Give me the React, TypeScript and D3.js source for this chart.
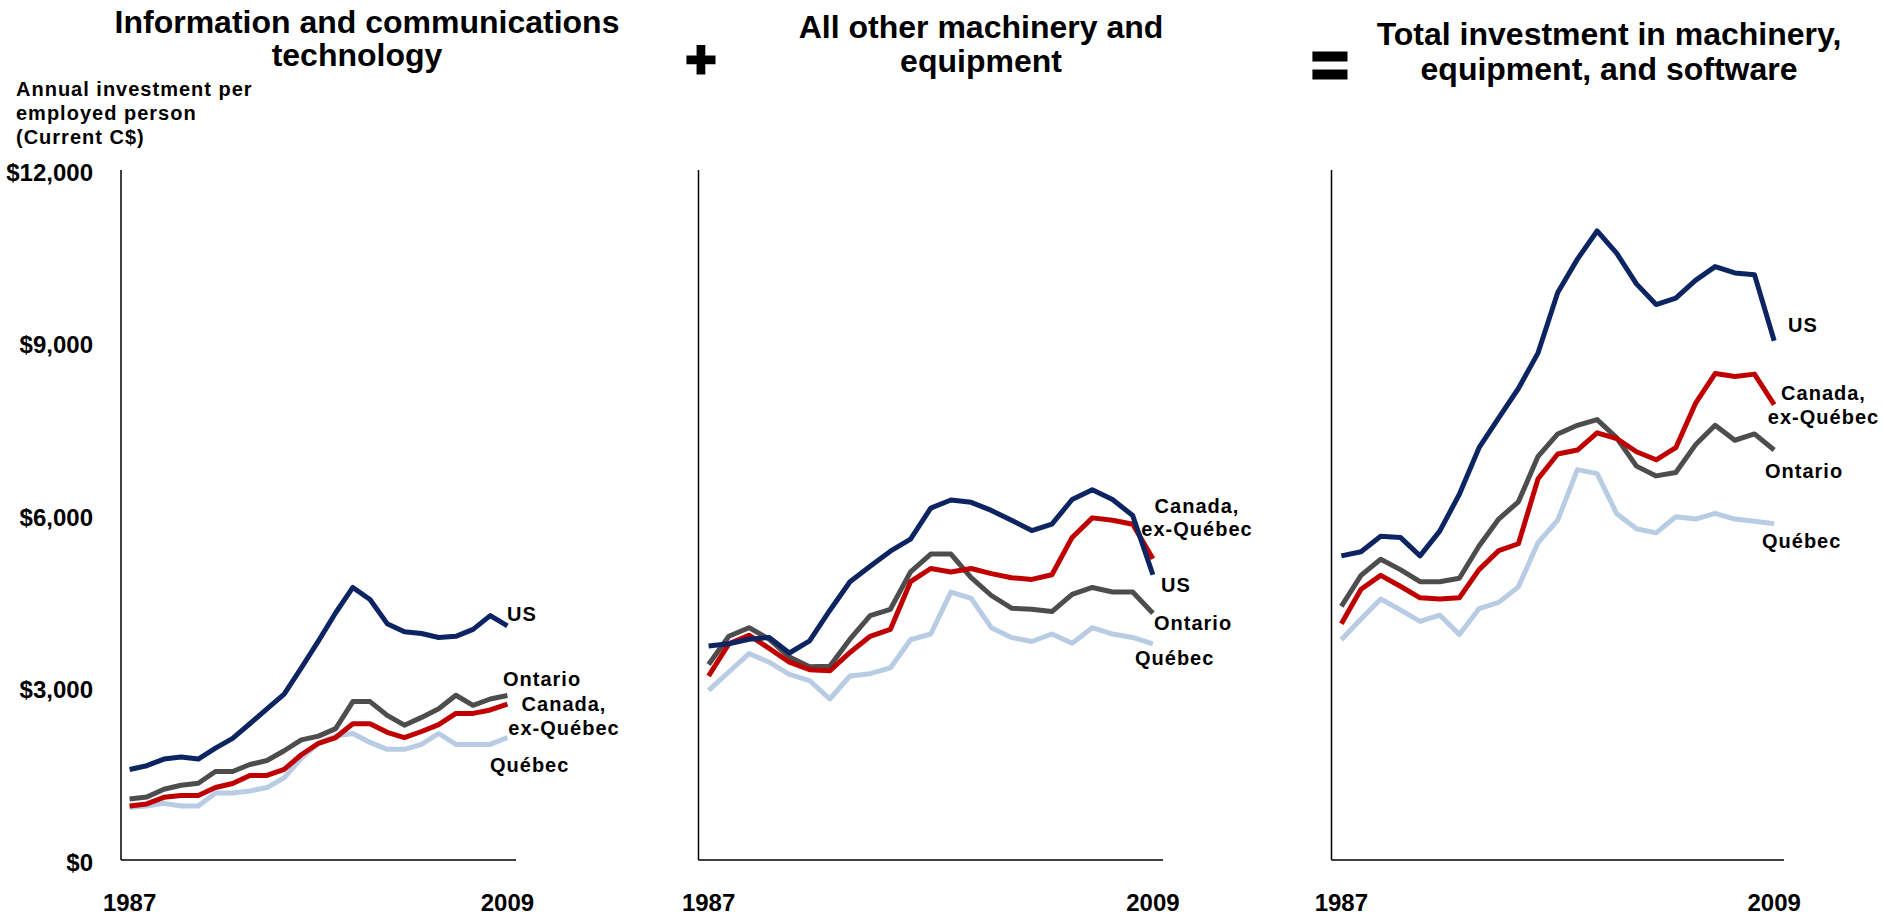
import React from "react";
import * as d3 from "d3";

// ---------- DATA ----------
const years = [1987, 1988, 1989, 1990, 1991, 1992, 1993, 1994, 1995, 1996, 1997, 1998, 1999, 2000, 2001, 2002, 2003, 2004, 2005, 2006, 2007, 2008, 2009];
const xTickYears = [1987, 2009];
const yTicks = [0, 3000, 6000, 9000, 12000];

// Information and communications technology
const ictUS = [1575, 1640, 1755, 1790, 1755, 1945, 2115, 2370, 2630, 2885, 3340, 3810, 4300, 4740, 4530, 4110, 3970, 3940, 3870, 3890, 4010, 4250, 4070];
const ictCanExQ = [940, 975, 1090, 1120, 1120, 1260, 1330, 1470, 1470, 1575, 1830, 2030, 2130, 2370, 2370, 2220, 2130, 2235, 2355, 2550, 2550, 2610, 2710];
const ictOntario = [1060, 1095, 1230, 1300, 1335, 1540, 1540, 1660, 1730, 1900, 2090, 2155, 2285, 2755, 2755, 2515, 2345, 2480, 2630, 2865, 2690, 2800, 2860];
const ictQuebec = [915, 940, 985, 940, 940, 1165, 1165, 1200, 1260, 1430, 1770, 2030, 2155, 2200, 2045, 1925, 1925, 2010, 2200, 2010, 2010, 2010, 2130];

// All other machinery and equipment
const otherUS = [3720, 3760, 3840, 3870, 3600, 3810, 4340, 4840, 5110, 5370, 5580, 6120, 6260, 6220, 6080, 5910, 5730, 5840, 6270, 6440, 6270, 5990, 4960];
const otherCanExQ = [3200, 3760, 3910, 3680, 3440, 3310, 3290, 3610, 3890, 4010, 4840, 5070, 5010, 5070, 4980, 4910, 4880, 4960, 5610, 5950, 5910, 5840, 5240];
const otherOntario = [3400, 3890, 4040, 3840, 3530, 3360, 3370, 3840, 4250, 4360, 5010, 5320, 5320, 4910, 4600, 4380, 4360, 4320, 4620, 4740, 4660, 4660, 4290];
const otherQuebec = [2950, 3270, 3590, 3440, 3230, 3120, 2800, 3200, 3240, 3340, 3830, 3930, 4660, 4550, 4040, 3870, 3800, 3930, 3770, 4040, 3930, 3870, 3760];

// Total investment in machinery, equipment, and software
const totalUS = [5290, 5360, 5630, 5610, 5290, 5720, 6360, 7170, 7690, 8200, 8820, 9870, 10450, 10940, 10550, 10020, 9660, 9770, 10080, 10320, 10210, 10180, 9030];
const totalCanExQ = [4110, 4710, 4950, 4760, 4560, 4540, 4560, 5050, 5380, 5500, 6630, 7060, 7130, 7430, 7330, 7100, 6960, 7170, 7940, 8460, 8410, 8450, 7920];
const totalOntario = [4410, 4950, 5230, 5050, 4840, 4840, 4900, 5460, 5930, 6230, 7020, 7410, 7560, 7660, 7340, 6850, 6680, 6740, 7220, 7560, 7300, 7410, 7130];
const totalQuebec = [3830, 4190, 4540, 4350, 4150, 4260, 3920, 4370, 4480, 4750, 5520, 5910, 6790, 6720, 6020, 5760, 5690, 5970, 5930, 6030, 5930, 5890, 5850];

const seriesNames = ["Québec", "Ontario", "Canada, ex-Québec", "US"];
const panelTitles = [
  ["Information and communications", "technology"],
  ["All other machinery and", "equipment"],
  ["Total investment in machinery,", "equipment, and software"],
];
const yAxisTitle = ["Annual investment per", "employed person", "(Current C$)"];

// ---------- STYLE ----------
const COLORS: Record<string, string> = {
  "Québec": "#b8cce4",
  "Ontario": "#4d4d4d",
  "Canada, ex-Québec": "#c00000",
  "US": "#0c2461",
};
const FONT = "'Liberation Sans', Arial, Helvetica, sans-serif";

const W = 1883;
const H = 923;

const yScale = d3.scaleLinear().domain([0, 12000]).range([860, 170]);

type Label = { lines: string[]; x: number; y: number; anchor: "start" | "middle"; lh?: number };

const panels = [
  {
    title: panelTitles[0],
    titleX: [367, 357],
    titleY: [33, 66],
    left: 121,
    right: 516,
    values: [ictQuebec, ictOntario, ictCanExQ, ictUS],
    labels: [
      { lines: ["US"], x: 507, y: 621, anchor: "start" },
      { lines: ["Ontario"], x: 503, y: 686, anchor: "start" },
      { lines: ["Canada,", "ex-Québec"], x: 564, y: 711, anchor: "middle", lh: 24 },
      { lines: ["Québec"], x: 490, y: 772, anchor: "start" },
    ] as Label[],
  },
  {
    title: panelTitles[1],
    titleX: [981, 981],
    titleY: [38, 72],
    left: 698.5,
    right: 1163,
    values: [otherQuebec, otherOntario, otherCanExQ, otherUS],
    labels: [
      { lines: ["Canada,", "ex-Québec"], x: 1197, y: 513, anchor: "middle", lh: 22.5 },
      { lines: ["US"], x: 1161, y: 592, anchor: "start" },
      { lines: ["Ontario"], x: 1154, y: 630, anchor: "start" },
      { lines: ["Québec"], x: 1135, y: 665, anchor: "start" },
    ] as Label[],
  },
  {
    title: panelTitles[2],
    titleX: [1609, 1609],
    titleY: [45, 80],
    left: 1331.5,
    right: 1784,
    values: [totalQuebec, totalOntario, totalCanExQ, totalUS],
    labels: [
      { lines: ["US"], x: 1788, y: 332, anchor: "start" },
      { lines: ["Canada,", "ex-Québec"], x: 1823.5, y: 400, anchor: "middle", lh: 24 },
      { lines: ["Ontario"], x: 1765, y: 478, anchor: "start" },
      { lines: ["Québec"], x: 1762, y: 548, anchor: "start" },
    ] as Label[],
  },
];

function Panel({ p, showY }: { p: (typeof panels)[number]; showY: boolean }) {
  const x = d3.scalePoint<number>().domain(years).range([p.left, p.right]).padding(0.5);
  const line = d3
    .line<number>()
    .x((_, i) => x(years[i]) as number)
    .y((d) => yScale(d));
  const [y0, y1] = yScale.range();
  return (
    <g>
      {/* title */}
      <text textAnchor="middle" fontFamily={FONT} fontWeight="bold" fontSize={32} fill="#000">
        {p.title.map((t, i) => (
          <tspan key={i} x={p.titleX[i]} y={p.titleY[i]}>
            {t}
          </tspan>
        ))}
      </text>
      {/* axes */}
      <line x1={p.left} x2={p.left} y1={y1} y2={y0} stroke="#000" strokeWidth={1.5} />
      <line x1={p.left} x2={p.right} y1={y0} y2={y0} stroke="#000" strokeWidth={1.5} />
      {showY &&
        yTicks.map((t) => (
          <text
            key={t}
            x={93}
            y={yScale(t) + 10.5}
            textAnchor="end"
            fontFamily={FONT}
            fontWeight="bold"
            fontSize={24}
            fill="#000"
          >
            {d3.format("$,")(t)}
          </text>
        ))}
      {xTickYears.map((yr) => (
        <text
          key={yr}
          x={x(yr) as number}
          y={911}
          textAnchor="middle"
          fontFamily={FONT}
          fontWeight="bold"
          fontSize={24}
          fill="#000"
        >
          {yr}
        </text>
      ))}
      {/* lines */}
      {p.values.map((vals, i) => (
        <path
          key={seriesNames[i]}
          d={line(vals) || ""}
          fill="none"
          stroke={COLORS[seriesNames[i]]}
          strokeWidth={5}
          strokeLinejoin="round"
          strokeLinecap="butt"
        />
      ))}
      {/* series labels */}
      {p.labels.map((l, i) => (
        <text
          key={i}
          textAnchor={l.anchor}
          fontFamily={FONT}
          fontWeight="bold"
          fontSize={20}
          letterSpacing={1}
          fill="#000"
        >
          {l.lines.map((s, j) => (
            <tspan key={j} x={l.x} y={l.y + j * (l.lh || 24)}>
              {s}
            </tspan>
          ))}
        </text>
      ))}
    </g>
  );
}

export default function App() {
  return (
    <svg
      width={W}
      height={H}
      viewBox={`0 0 ${W} ${H}`}
      style={{ position: "fixed", left: 0, top: 0, background: "#fff" }}
    >
      <rect x={0} y={0} width={W} height={H} fill="#fff" />
      {/* y-axis title */}
      <text fontFamily={FONT} fontWeight="bold" fontSize={20} letterSpacing={1} fill="#000">
        {yAxisTitle.map((t, i) => (
          <tspan key={i} x={16} y={96 + i * 24}>
            {t}
          </tspan>
        ))}
      </text>
      {panels.map((p, i) => (
        <Panel key={i} p={p} showY={i === 0} />
      ))}
      {/* operators */}
      <text
        x={701}
        y={77}
        textAnchor="middle"
        fontFamily={FONT}
        fontWeight="bold"
        fontSize={52}
        stroke="#000"
        strokeWidth={3}
        fill="#000"
      >
        +
      </text>
      <text
        x={1330}
        y={87}
        textAnchor="middle"
        fontFamily={FONT}
        fontWeight="bold"
        fontSize={64}
        stroke="#000"
        strokeWidth={3}
        fill="#000"
      >
        =
      </text>
    </svg>
  );
}
